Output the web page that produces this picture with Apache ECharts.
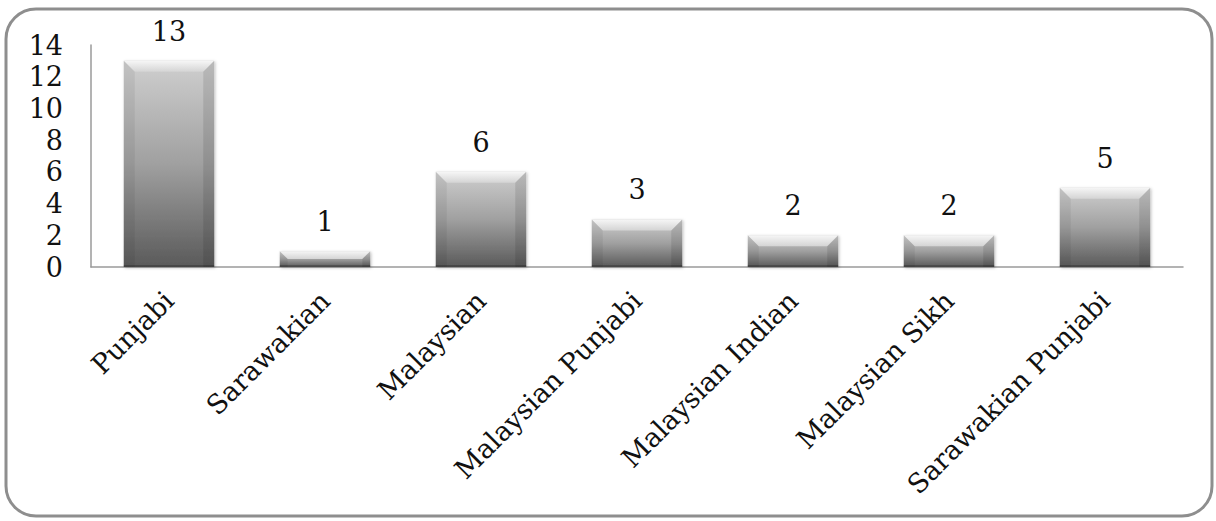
<!DOCTYPE html>
<html>
<head>
<meta charset="utf-8">
<script src="https://cdn.jsdelivr.net/npm/echarts@6/dist/echarts.min.js"></script>
<style>
  html, body { margin: 0; padding: 0; background: #ffffff; }
  #chart { width: 1216px; height: 521px; }
</style>
</head>
<body>
<div id="chart"></div>
<script>
// Respondents by self-described identity
const categories = ['Punjabi', 'Sarawakian', 'Malaysian', 'Malaysian Punjabi', 'Malaysian Indian', 'Malaysian Sikh', 'Sarawakian Punjabi'];
const counts = [13, 1, 6, 3, 2, 2, 5];
const yTicks = [0, 2, 4, 6, 8, 10, 12, 14];

const FONT = 'DejaVu Serif';
const BAR_RATIO = 0.58;

const chart = echarts.init(document.getElementById('chart'), null, { renderer: 'svg' });

// Bevel overlay on top of each bar: light top facet, shaded side facets
function renderBevel(params, api) {
  const idx = api.value(0);
  const val = api.value(1);
  const base = api.coord([idx, 0]);
  const top = api.coord([idx, val]);
  const w = api.size([1, 0])[0] * BAR_RATIO;
  const x0 = base[0] - w / 2, x1 = base[0] + w / 2;
  const yt = top[1], yb = base[1];
  const b = Math.min(11, (yb - yt) / 2);
  return {
    type: 'group',
    children: [
      { type: 'polygon', shape: { points: [[x0, yt], [x1, yt], [x1 - b, yt + b], [x0 + b, yt + b]] },
        style: { fill: new echarts.graphic.LinearGradient(0, 0, 0, 1, [
          { offset: 0, color: '#f6f6f6' }, { offset: 1, color: '#d4d4d4' }]) } },
      { type: 'polygon', shape: { points: [[x0, yt], [x0 + b, yt + b], [x0 + b, yb], [x0, yb]] },
        style: { fill: 'rgba(0,0,0,0.06)' } },
      { type: 'polygon', shape: { points: [[x1, yt], [x1 - b, yt + b], [x1 - b, yb], [x1, yb]] },
        style: { fill: 'rgba(0,0,0,0.10)' } },
      { type: 'rect', shape: { x: x0, y: yb - 2, width: w, height: 2 },
        style: { fill: 'rgba(0,0,0,0.22)' } }
    ]
  };
}

chart.setOption({
  animation: false,
  backgroundColor: '#ffffff',
  graphic: [{
    type: 'rect',
    shape: { x: 6, y: 9, width: 1206, height: 507, r: 30 },
    style: { fill: '#ffffff', stroke: '#8e8e8e', lineWidth: 3 },
    z: -10
  }],
  grid: { left: 91, right: 33, top: 45, bottom: 254, containLabel: false },
  xAxis: {
    type: 'category',
    data: categories,
    axisLine: { show: true, lineStyle: { color: '#9a9a9a', width: 1.5 } },
    axisTick: { show: false },
    axisLabel: { rotate: 45, interval: 0, margin: 29, color: '#111', fontFamily: FONT, fontSize: 27 }
  },
  yAxis: {
    type: 'value',
    min: yTicks[0],
    max: yTicks[yTicks.length - 1],
    interval: yTicks[1] - yTicks[0],
    axisLine: { show: true, lineStyle: { color: '#9a9a9a', width: 1.5 } },
    axisTick: { show: false },
    splitLine: { show: false },
    axisLabel: { margin: 28, color: '#111', fontFamily: FONT, fontSize: 27 }
  },
  series: [
    {
      type: 'bar',
      data: counts,
      barWidth: (BAR_RATIO * 100) + '%',
      itemStyle: {
        color: new echarts.graphic.LinearGradient(0, 0, 0, 1, [
          { offset: 0, color: '#cfcfcf' },
          { offset: 0.5, color: '#a0a0a0' },
          { offset: 1, color: '#5a5a5a' }
        ]),
        shadowColor: 'rgba(0,0,0,0.25)',
        shadowBlur: 3,
        shadowOffsetX: 1,
        shadowOffsetY: 1
      },
      label: {
        show: true,
        position: 'top',
        distance: 16,
        color: '#111',
        fontFamily: FONT,
        fontSize: 27
      },
      z: 2
    },
    {
      type: 'custom',
      data: counts.map((v, i) => [i, v]),
      renderItem: renderBevel,
      silent: true,
      z: 3
    }
  ]
});
</script>
</body>
</html>
